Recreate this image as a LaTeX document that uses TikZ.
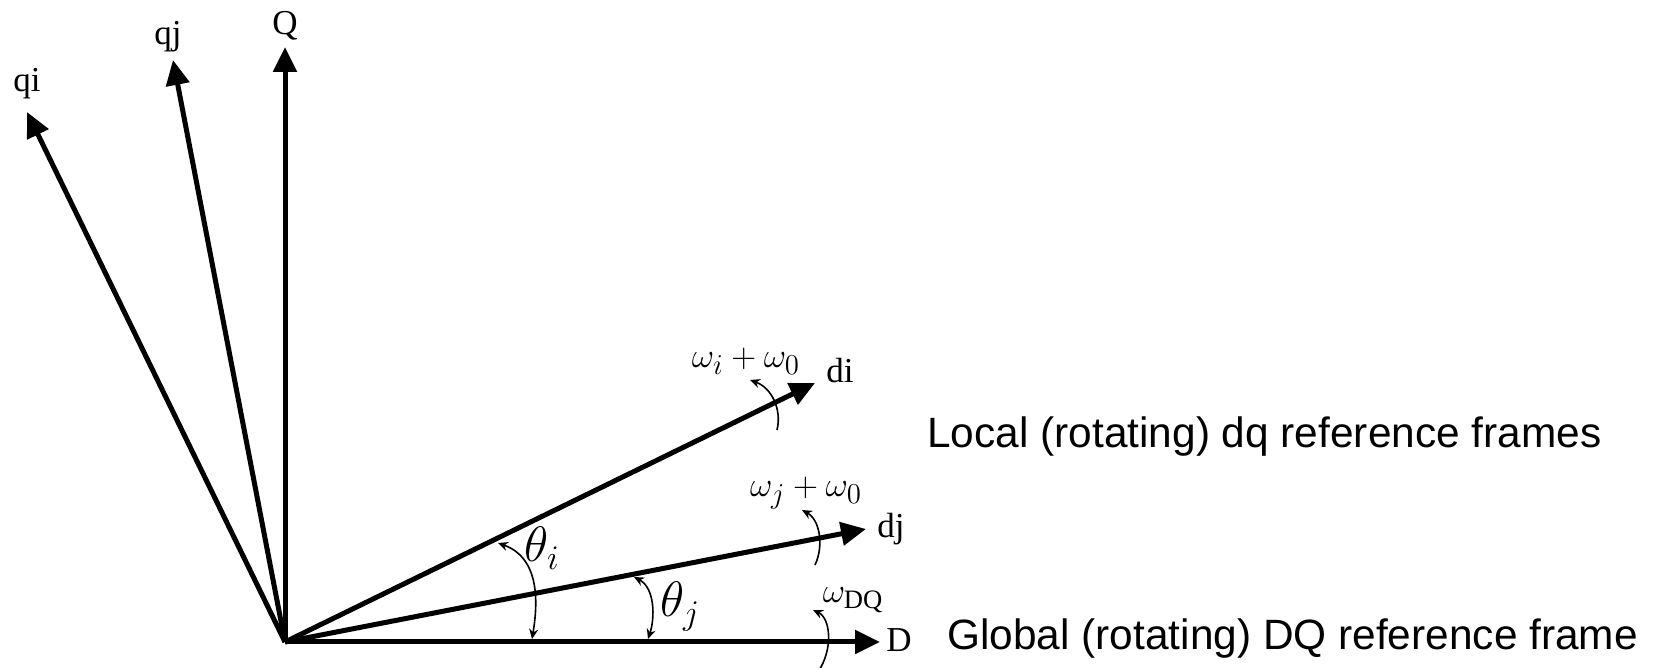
\documentclass[tikz,border=0pt]{standalone}
\usepackage{fontspec}
\setmainfont{Liberation Serif}
\newfontfamily\arialfont{Liberation Sans}
\usetikzlibrary{arrows.meta}
\begin{document}
\begin{tikzpicture}[x=0.5pt,y=0.5pt,
  vec/.style={line width=2.5pt, -{Triangle[length=12.5pt,width=11.5pt]}},
  thinarc/.style={line width=0.8pt},
  tipone/.style={-{Stealth[length=5pt,width=4.5pt]}},
  tiptwo/.style={{Stealth[length=5pt,width=4.5pt]}-{Stealth[length=5pt,width=4.5pt]}},
  axlabel/.style={font=\fontsize{17.5}{20}\selectfont, inner sep=0pt, anchor=base},
  omlabel/.style={font=\fontsize{19}{22}\selectfont, inner sep=0pt, anchor=base},
  thlabel/.style={font=\fontsize{23}{27}\selectfont, inner sep=0pt, anchor=base west},
  caption/.style={font=\arialfont\fontsize{21.2}{25}\selectfont, inner sep=0pt, anchor=base west}]
\useasboundingbox (0,0) rectangle (1658,668);
% origin and vector tips
\coordinate (O) at (285,26);
\coordinate (tD) at (880,26);
\coordinate (tdj) at (866,139);
\coordinate (tdi) at (815,285);
\coordinate (tQ) at (285,621);
\coordinate (tqj) at (173,608);
\coordinate (tqi) at (27,556);
% vectors
\draw[vec] (O) -- (tD);
\draw[vec] (O) -- (tdj);
\draw[vec] (O) -- (tdi);
\draw[vec] (O) -- (tQ);
\draw[vec] (O) -- (tqj);
\draw[vec] (O) -- (tqi);
% axis labels
\node[axlabel] (lQ) at (285,633) {Q};
\node[axlabel] (lqj) at (168,623) {qj};
\node[axlabel] (lqi) at (27,576) {qi};
\node[axlabel] (ldi) at (840,285) {di};
\node[axlabel] (ldj) at (891,130) {dj};
\node[axlabel] (lD) at (899,16) {D};
% angle arcs
\coordinate (thiA) at (498,125);
\coordinate (thiB) at (532,29);
\draw[thinarc,tiptwo] (thiA) .. controls (540,110) and (538,65) .. (thiB);
\coordinate (thjA) at (634,91);
\coordinate (thjB) at (648,29);
\draw[thinarc,tiptwo] (thjA) .. controls (655,80) and (655,50) .. (thjB);
\node[thlabel] (lthi) at (524,106) {$\theta_i$};
\node[thlabel] (lthj) at (660,51) {$\theta_j$};
% rotation arrows
\coordinate (wiA) at (777,238);
\coordinate (wiB) at (750,288);
\draw[thinarc,tipone] (wiA) .. controls (782,258) and (772,280) .. (wiB);
\coordinate (wjA) at (815,103);
\coordinate (wjB) at (802,158);
\draw[thinarc,tipone] (wjA) .. controls (824,122) and (820,148) .. (wjB);
\coordinate (wDA) at (818,-4);
\coordinate (wDB) at (813,58);
\draw[thinarc,tipone] (wDA) .. controls (834,20) and (830,50) .. (wDB);
\node[omlabel] (lwi) at (746,300) {$\omega_i+\omega_0$};
\node[omlabel] (lwj) at (806,171) {$\omega_j+\omega_0$};
\node[omlabel] (lwD) at (853,65) {$\omega_{\mathrm{DQ}}$};
% captions
\node[caption] (cap1) at (927,220) {Local (rotating) dq reference frames};
\node[caption] (cap2) at (947,18) {Global (rotating) DQ reference frame};
\end{tikzpicture}
\end{document}
